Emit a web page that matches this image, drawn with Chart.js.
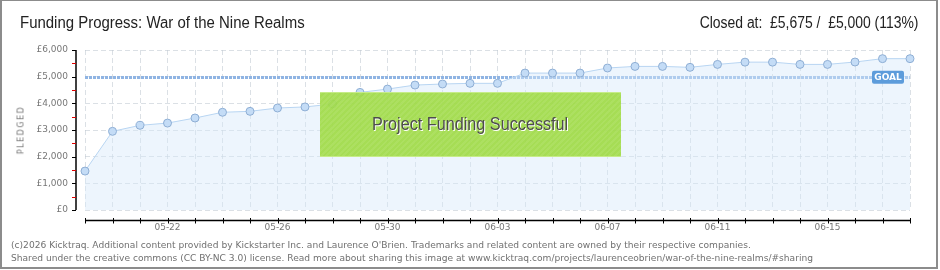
<!DOCTYPE html>
<html>
<head>
<meta charset="utf-8">
<script src="https://cdn.jsdelivr.net/npm/chart.js@4.4.1/dist/chart.umd.min.js"></script>
<style>
  body { margin: 0; width: 940px; height: 270px; overflow: hidden; background: #fff; position: relative; }
  #frame { position: absolute; left: 0; top: 0; width: 934px; height: 266px; border: 2px solid #8c8c8c; border-top-width: 1px; pointer-events: none; }
  #wrap { position: absolute; left: 0; top: 0; width: 940px; height: 270px; }
  .head { position: absolute; top: 14px; font-family: "Liberation Sans", sans-serif; font-size: 16px; color: #222; white-space: nowrap; }
  #title { left: 20px; transform: scaleX(0.935); transform-origin: left center; }
  #closed { right: 22px; transform: scaleX(0.87); transform-origin: right center; }
  #ylab { position: absolute; left: 21px; top: 130px; font-family: "DejaVu Sans", sans-serif; font-size: 8px; letter-spacing: 1.5px; color: #777;
          transform: translate(-50%, -50%) rotate(-90deg); transform-origin: center; white-space: nowrap; }
  #success { position: absolute; left: 320px; top: 92px; width: 301px; height: 65px; box-sizing: border-box;
             background: rgba(160, 218, 70, 0.92) repeating-linear-gradient(135deg, rgba(255,255,255,0.07) 0 2px, transparent 2px 4px);
             border-top: 1px solid #c6ec88; border-bottom: 1px solid #c6ec88;
             font-family: "Liberation Sans", sans-serif; font-size: 18px; color: #4d4d4d;
             text-shadow: 1px 1px 0 #fff; text-align: center; line-height: 63px; white-space: nowrap; }
  #success span { display: inline-block; transform: scaleX(0.9); }
  #foot { position: absolute; left: 11px; top: 239px; font-family: "DejaVu Sans", sans-serif; font-size: 9.1px; line-height: 12.5px; color: #707070; white-space: nowrap; }
</style>
</head>
<body>
<div id="wrap"><canvas id="myChart" width="940" height="270"></canvas></div>
<div class="head" id="title">Funding Progress: War of the Nine Realms</div>
<div class="head" id="closed">Closed at:&nbsp; £5,675 /&nbsp; £5,000 (113%)</div>
<div id="ylab">PLEDGED</div>
<div id="success"><span>Project Funding Successful</span></div>
<div id="foot">(c)2026 Kicktraq. Additional content provided by Kickstarter Inc. and Laurence O'Brien. Trademarks and related content are owned by their respective companies.<br>Shared under the creative commons (CC BY-NC 3.0) license. Read more about sharing this image at www.kicktraq.com/projects/laurenceobrien/war-of-the-nine-realms/#sharing</div>
<div id="frame"></div>
<script>
const ctx = document.getElementById('myChart').getContext("2d");

// days of the campaign
const dates = [
  "05-19", "05-20", "05-21", "05-22", "05-23", "05-24", "05-25", "05-26",
  "05-27", "05-28", "05-29", "05-30", "05-31", "06-01", "06-02", "06-03",
  "06-04", "06-05", "06-06", "06-07", "06-08", "06-09", "06-10", "06-11",
  "06-12", "06-13", "06-14", "06-15", "06-16", "06-17", "06-18",
];

// pledged total (GBP) per day
const pledged = [
  1460, 2950, 3175, 3260, 3450, 3665, 3700, 3825,
  3865, 3975, 4410, 4535, 4685, 4725, 4750, 4750,
  5135, 5135, 5135, 5325, 5385, 5385, 5350, 5460,
  5545, 5545, 5460, 5460, 5550, 5675, 5675,
];

const goal = 5000;
const yMax = 6000;

// offset axes + goal line (kicktraq style)
const kicktraqBits = {
  id: 'kicktraqBits',
  beforeDatasetsDraw(chart) {
    const { ctx, chartArea: a, scales: { y } } = chart;
    const gy = Math.round(y.getPixelForValue(goal)) + 0.5;
    ctx.save();
    ctx.strokeStyle = "#8fb4e3";
    ctx.lineWidth = 3;
    ctx.setLineDash([3, 1]);
    ctx.beginPath();
    ctx.moveTo(a.left, gy);
    ctx.lineTo(a.right, gy);
    ctx.stroke();
    ctx.restore();
  },
  afterDraw(chart) {
    const { ctx, chartArea: a, scales: { x, y } } = chart;
    ctx.save();
    // goal tag
    const gy = y.getPixelForValue(goal);
    ctx.fillStyle = "#5d9cdb";
    ctx.beginPath();
    ctx.roundRect(a.right - 38, gy - 6, 32, 13, 2);
    ctx.fill();
    ctx.fillStyle = "#fff";
    ctx.font = "bold 9px 'DejaVu Sans'";
    ctx.textAlign = "center";
    ctx.textBaseline = "middle";
    ctx.fillText("GOAL", a.right - 22, gy + 1);

    // y axis
    const ax = a.left - 9;
    ctx.strokeStyle = "#000";
    ctx.lineWidth = 1.5;
    ctx.beginPath();
    ctx.moveTo(ax, y.getPixelForValue(yMax));
    ctx.lineTo(ax, y.getPixelForValue(0));
    ctx.stroke();
    for (let v = 0; v <= yMax; v += 500) {
      const py = Math.round(y.getPixelForValue(v)) + 0.5;
      ctx.strokeStyle = v % 1000 === 0 ? "#000" : "#e00000";
      ctx.lineWidth = 1;
      ctx.beginPath();
      ctx.moveTo(ax - 4, py);
      ctx.lineTo(ax, py);
      ctx.stroke();
    }

    // x axis
    const ay = a.bottom + 10.5;
    ctx.strokeStyle = "#000";
    ctx.lineWidth = 1.5;
    ctx.beginPath();
    ctx.moveTo(a.left, ay);
    ctx.lineTo(a.right, ay);
    ctx.stroke();
    ctx.lineWidth = 1;
    dates.forEach((d, i) => {
      const px = Math.round(x.getPixelForValue(i)) + 0.5;
      ctx.beginPath();
      ctx.moveTo(px, ay - 2.5);
      ctx.lineTo(px, ay + 3);
      ctx.stroke();
    });
    ctx.restore();
  }
};

const data = {
  labels: dates,
  datasets: [
    {
      data: pledged,
      label: "Pledged",
      fill: true,
      borderWidth: 1,
      borderColor: "#b8d5f2",
      backgroundColor: "rgba(214, 232, 250, 0.45)",
      pointRadius: 4,
      pointBorderWidth: 1,
      pointBackgroundColor: "#c4dcf6",
      pointBorderColor: "#8eaed4",
      tension: 0,
    },
  ],
};

const config = {
  type: 'line',
  data: data,
  plugins: [kicktraqBits],
  options: {
    responsive: false,
    animation: false,
    layout: { padding: { top: 50, right: 30, left: 0, bottom: 0 } },
    plugins: {
      legend: { display: false },
      tooltip: { enabled: false },
    },
    scales: {
      x: {
        type: 'category',
        offset: false,
        afterFit: (scale) => { scale.height = 60; },
        grid: { color: "rgba(190, 198, 208, 0.55)", drawTicks: false, lineWidth: 1 },
        border: { display: false, dash: [5, 3] },
        ticks: {
          autoSkip: false,
          maxRotation: 0,
          padding: 12,
          color: "#777",
          font: { family: "DejaVu Sans", size: 9 },
          callback: function (value, index) {
            return index % 4 === 3 ? dates[index] : "";
          },
        },
      },
      y: {
        min: 0,
        max: yMax,
        afterFit: (scale) => { scale.width = 85; },
        grid: { color: "rgba(190, 198, 208, 0.55)", drawTicks: false, lineWidth: 1 },
        border: { display: false, dash: [5, 3] },
        ticks: {
          stepSize: 1000,
          padding: 17,
          color: "#777",
          font: { family: "DejaVu Sans", size: 9 },
          callback: function (value) {
            return '£' + value.toLocaleString('en-US');
          },
        },
      },
    },
  },
};

const myChart = new Chart(ctx, config);
</script>
</body>
</html>
